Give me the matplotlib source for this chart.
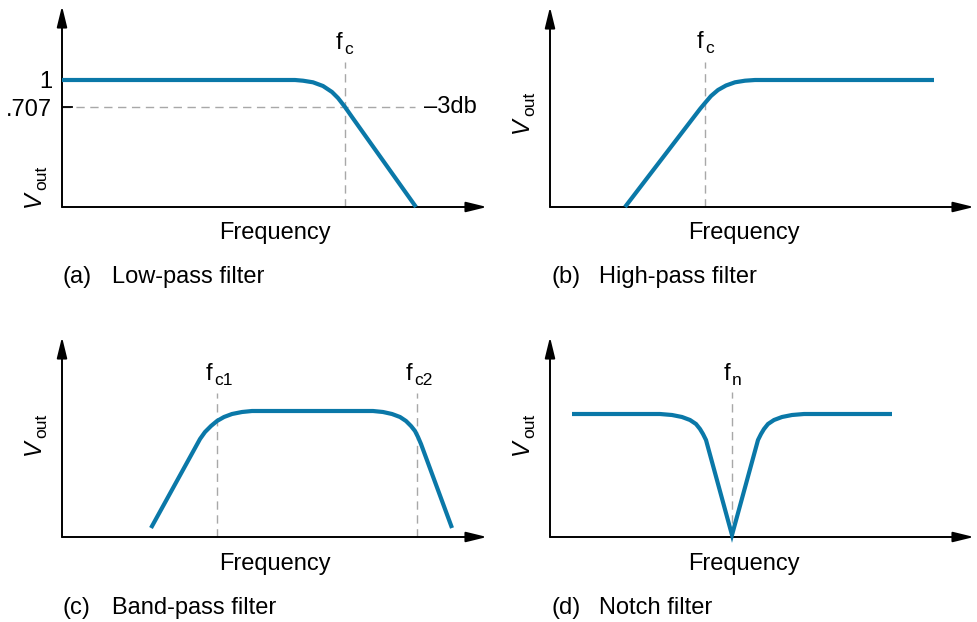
import matplotlib
matplotlib.use('Agg')
import matplotlib.pyplot as plt

W, H = 978, 622
plt.rcParams['font.family'] = ['Liberation Sans', 'DejaVu Sans']

BLUE = '#0a78a8'
GRAY = '#a8a8a8'
FS = 17

# ---- data (schematic units: frequency, Vout) ----
lowpass_f = [0, 233, 241, 251, 261, 270, 276, 283, 290, 354]
lowpass_v = [127, 127, 126.3, 124.7, 121, 115, 109, 100, 90, 0]
lowpass_fc = 283
lowpass_level_3db = 100
lowpass_level_1 = 127

highpass_f = [75, 150, 155, 161, 168, 176, 185, 195, 205, 384]
highpass_v = [0, 98, 104, 111, 117, 121.5, 124.7, 126.3, 127, 127]
highpass_fc = 155

bandpass_f = [89, 138, 143, 149, 155, 162, 170, 180, 190,
              311, 321, 330, 338, 344, 349, 353, 356, 359, 390]
bandpass_v = [9, 98, 105, 111, 116, 120, 123, 125, 126,
              126, 125, 123, 120, 116, 111, 106, 100, 93, 9]
bandpass_fc1 = 155
bandpass_fc2 = 355

notch_f = [22, 110, 122, 132, 140, 146, 150, 153, 156, 182,
           208, 211, 214, 218, 224, 232, 242, 254, 342]
notch_v = [123, 123, 122, 120, 117, 113, 108, 103, 97, 2,
           97, 103, 108, 113, 117, 120, 122, 123, 123]
notch_fn = 182

y_tick_values = [lowpass_level_1, lowpass_level_3db]
y_tick_labels = ['1', '.707']

fig = plt.figure(figsize=(W / 100, H / 100), dpi=100)


def fx(px):
    return px / W


def fy(py):
    return 1 - py / H


def make_axes(ox, oy, tipx, tipy):
    ax = fig.add_axes([fx(ox), fy(oy), (tipx - ox) / W, (oy - tipy) / H])
    ax.set_xlim(0, tipx - ox)
    ax.set_ylim(0, oy - tipy)
    for s in ax.spines.values():
        s.set_visible(False)
    ax.set_xticks([])
    ax.set_yticks([])
    ax.patch.set_alpha(0)
    ap = dict(arrowstyle='-|>,head_length=0.9,head_width=0.22', color='black',
              lw=1.4, shrinkA=0, shrinkB=0, mutation_scale=14)
    ax.annotate('', xy=(1, 0), xytext=(0, 0), xycoords='axes fraction',
                textcoords='axes fraction', arrowprops=ap)
    ax.annotate('', xy=(0, 1), xytext=(0, 0), xycoords='axes fraction',
                textcoords='axes fraction', arrowprops=ap)
    return ax


def curve(ax, f, v, join='round'):
    ax.plot(f, v, color=BLUE, lw=3.0, solid_joinstyle=join,
            solid_capstyle='butt', clip_on=False, zorder=3)


def vguide(ax, x, top):
    ax.plot([x, x], [0, top], color=GRAY, lw=1.0, dashes=(6, 4), zorder=1)


def txt(px, py, s, **kw):
    kw.setdefault('fontsize', FS)
    fig.text(fx(px), fy(py), s, **kw)


def flabel(px, base, sub):
    # "f" with a subscript, px = left of f, base = baseline (pixels from top)
    txt(px, base, 'f', ha='left', va='baseline')
    txt(px + 8, base + 5, sub, ha='left', va='baseline', fontsize=12.5)


def vout(basex, starty):
    # rotated V_out; basex = baseline x of V, starty = bottom pixel where text starts
    txt(basex, starty, 'V', rotation=90, rotation_mode='anchor', ha='left',
        va='baseline', fontsize=17, style='italic')
    txt(basex + 6, starty - 17, 'out', rotation=90, rotation_mode='anchor',
        ha='left', va='baseline', fontsize=12.5)


# (a) Low-pass
axa = make_axes(62, 207, 487, 6)
vguide(axa, lowpass_fc, 145)
axa.plot([0, 353], [lowpass_level_3db] * 2, color=GRAY, lw=1.0, dashes=(6, 4), zorder=1)
axa.plot([0, 10], [lowpass_level_3db] * 2, color='black', lw=1.3, zorder=2)
curve(axa, lowpass_f, lowpass_v)
axa.set_yticks(y_tick_values)
axa.set_yticklabels(y_tick_labels, fontsize=FS)
axa.tick_params(axis='y', length=0, pad=7)
flabel(336, 49, 'c')
txt(424, 113, '\u20133db', ha='left', va='baseline')
vout(40, 207)
txt(275, 239, 'Frequency', ha='center', va='baseline')
txt(63, 283, '(a)', ha='left', va='baseline')
txt(112, 283, 'Low-pass filter', ha='left', va='baseline')

# (b) High-pass
axb = make_axes(550, 207, 974, 7)
vguide(axb, highpass_fc, 145)
curve(axb, highpass_f, highpass_v)
flabel(697, 48, 'c')
vout(528, 133)
txt(744, 239, 'Frequency', ha='center', va='baseline')
txt(552, 283, '(b)', ha='left', va='baseline')
txt(599, 283, 'High-pass filter', ha='left', va='baseline')

# (c) Band-pass
axc = make_axes(62, 537, 487, 337)
vguide(axc, bandpass_fc1, 144)
vguide(axc, bandpass_fc2, 144)
curve(axc, bandpass_f, bandpass_v)
flabel(206, 380, 'c1')
flabel(406, 380, 'c2')
vout(40, 455)
txt(275, 570, 'Frequency', ha='center', va='baseline')
txt(63, 614, '(c)', ha='left', va='baseline')
txt(112, 614, 'Band-pass filter', ha='left', va='baseline')

# (d) Notch
axd = make_axes(550, 537, 974, 337)
vguide(axd, notch_fn, 145)
curve(axd, notch_f, notch_v, join='miter')
flabel(724, 380, 'n')
vout(528, 455)
txt(744, 570, 'Frequency', ha='center', va='baseline')
txt(552, 614, '(d)', ha='left', va='baseline')
txt(599, 614, 'Notch filter', ha='left', va='baseline')

fig.savefig('out.png', dpi=100)
